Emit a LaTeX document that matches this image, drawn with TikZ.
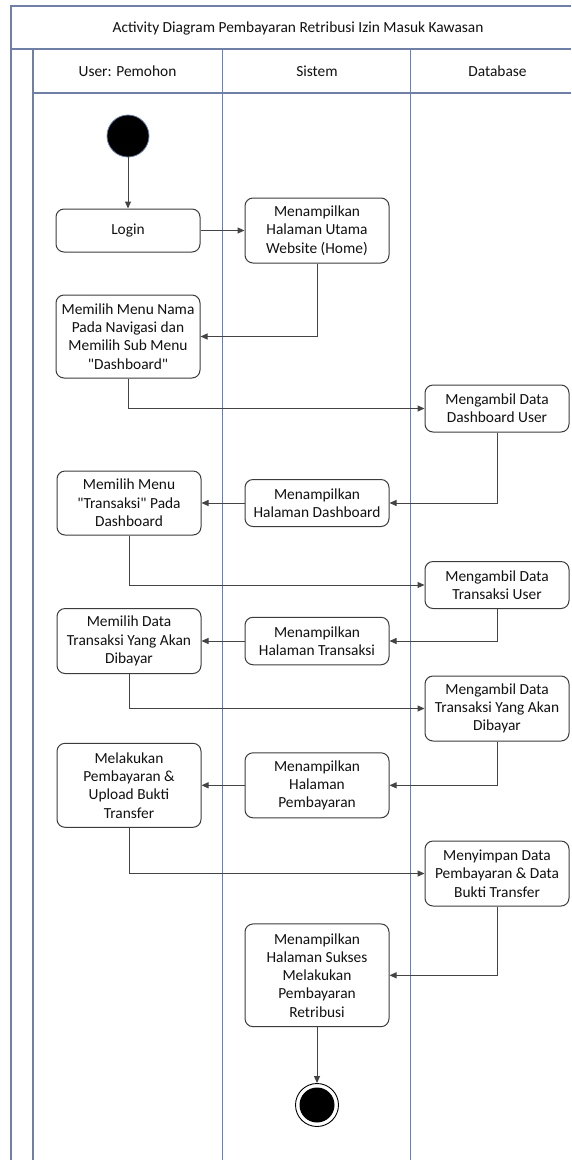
\documentclass[tikz,border=0pt]{standalone}
\usepackage{fontspec}
\setmainfont{Carlito}
\newfontfamily\qfont{Carlito}[Ligatures=TeXOff]
\usetikzlibrary{arrows.meta}
\newcommand{\sq}{{\qfont"}}
\definecolor{frameC}{HTML}{6F7FA6}
\definecolor{boxC}{HTML}{3C3C3C}
\definecolor{lineC}{HTML}{444444}
\definecolor{txtC}{HTML}{111111}
\tikzset{
  act/.style={draw=boxC, line width=1pt, rounded corners=8pt, minimum width=144pt, align=center, inner sep=2pt, text=txtC, font=\fontsize{15.4}{18.3}\selectfont, fill=white},
  flow/.style={draw=lineC, line width=1pt, -{Triangle[length=7pt,width=6pt]}},
  lane/.style={draw=frameC, line width=1.1pt},
  lbl/.style={text=txtC, font=\fontsize{15.4}{18}\selectfont}
}
\begin{document}
\begin{tikzpicture}[x=1pt,y=-1pt]
\useasboundingbox (0,0) rectangle (571,1160);
\fill[white] (0,0) rectangle (571,1160);
% frame
\draw[lane] (571,6) -- (11,6) -- (11,1160);
\draw[lane] (11,49) -- (571,49);
\draw[lane] (33,49) -- (33,1160);
\draw[lane] (33,93) -- (571,93);
\draw[lane] (222.5,49) -- (222.5,1160);
\draw[lane] (410.5,49) -- (410.5,1160);
\node[lbl] (title) at (298,28) {Activity Diagram Pembayaran Retribusi Izin Masuk Kawasan};
\node[lbl] (h1) at (127.5,71.5) {User: Pemohon};
\node[lbl] (h2) at (317,71.5) {Sistem};
\node[lbl] (h3) at (497.5,71.5) {Database};
% nodes
\node[circle, fill=black, draw=frameC, line width=0.8pt, minimum size=42pt, inner sep=0pt] (start) at (128,136) {};
\node[act, minimum height=43pt] (login) at (128,230.5) {Login};
\node[act, minimum height=65pt] (home) at (317,230.5) {Menampilkan\\Halaman Utama\\Website (Home)};
\node[act, minimum height=83pt] (nama) at (128,336.5) {Memilih Menu Nama\\Pada Navigasi dan\\Memilih Sub Menu\\\sq Dashboard\sq};
\node[act, minimum height=47pt] (dashU) at (497,408.5) {Mengambil Data\\Dashboard User};
\node[act, minimum height=64pt] (menuT) at (129,503) {Memilih Menu\\\sq Transaksi\sq\ Pada\\Dashboard};
\node[act, minimum height=47pt] (dash) at (317,503) {Menampilkan\\Halaman Dashboard};
\node[act, minimum height=47pt] (transU) at (497,585) {Mengambil Data\\Transaksi User};
\node[act, minimum height=65pt] (pilih) at (129,641) {Memilih Data\\Transaksi Yang Akan\\Dibayar};
\node[act, minimum height=47.5pt] (trans) at (317,641) {Menampilkan\\Halaman Transaksi};
\node[act, minimum height=65pt] (akan) at (497,708.5) {Mengambil Data\\Transaksi Yang Akan\\Dibayar};
\node[act, minimum height=84pt] (bayar) at (129,785.3) {Melakukan\\Pembayaran \&\\Upload Bukti\\Transfer};
\node[act, minimum height=65pt] (pemb) at (317,785.3) {Menampilkan\\Halaman\\Pembayaran};
\node[act, minimum height=65pt] (simpan) at (497,873.5) {Menyimpan Data\\Pembayaran \& Data\\Bukti Transfer};
\node[act, minimum height=102.7pt] (sukses) at (317,975.3) {Menampilkan\\Halaman Sukses\\Melakukan\\Pembayaran\\Retribusi};
\node[circle, draw=black, line width=0.9pt, fill=white, minimum size=43pt, inner sep=0pt] (end) at (317,1105) {};
\node[circle, fill=black, minimum size=35pt, inner sep=0pt] (endin) at (end.center) {};
% connectors
\draw[flow] (start) -- (login);
\draw[flow] (login) -- (home);
\draw[flow] (home.south) |- (nama.east);
\draw[flow] (nama.south) |- (dashU.west);
\draw[flow] (dashU.south) |- (dash.east);
\draw[flow] (dash.west) -- (dash.west -| menuT.east);
\draw[flow] (menuT.south) |- (transU.west);
\draw[flow] (transU.south) |- (trans.east);
\draw[flow] (trans.west) -- (trans.west -| pilih.east);
\draw[flow] (pilih.south) |- (akan.west);
\draw[flow] (akan.south) |- (pemb.east);
\draw[flow] (pemb.west) -- (pemb.west -| bayar.east);
\draw[flow] (bayar.south) |- (simpan.west);
\draw[flow] (simpan.south) |- (sukses.east);
\draw[flow] (sukses.south) -- (end.north);
\end{tikzpicture}
\end{document}
